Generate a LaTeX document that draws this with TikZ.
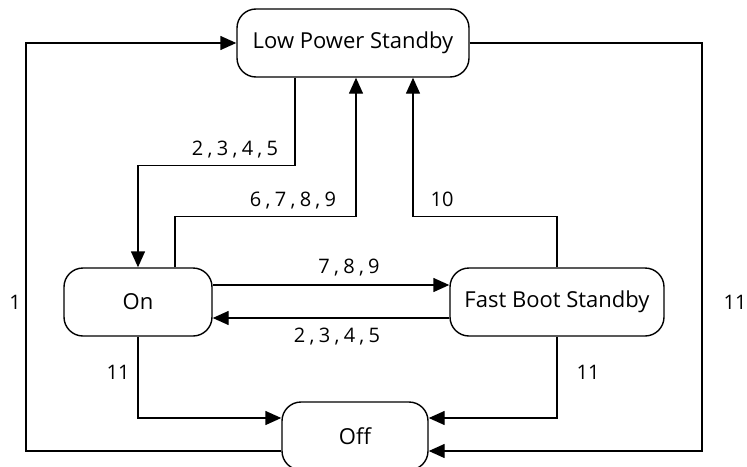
\documentclass[tikz,border=0pt]{standalone}
\usepackage{fontspec}
\setmainfont{Open Sans}
\usetikzlibrary{arrows.meta,positioning}

\newcommand\lsep{\kern4.3pt,\kern4.3pt}

\begin{document}
\begin{tikzpicture}[x=1pt,y=-1pt,
	state/.style={draw,rounded corners=19pt,line width=1.4pt,minimum height=68pt,inner sep=0pt,font=\fontsize{22}{26}\selectfont},
	trans/.style={line width=1.4pt,-{Triangle[length=16pt,width=14pt]}},
	lbl/.style={font=\fontsize{20}{24}\selectfont,inner sep=0pt,anchor=center}]
	\useasboundingbox (0,0) rectangle (747,466);

	\node[state,minimum width=232pt] (lps) at (353,43) {Low Power Standby};
	\node[state,minimum width=148pt] (on) at (138,302) {On};
	\node[state,minimum width=214pt] (fbs) at (557,302) {Fast Boot Standby};
	\node[state,minimum width=146pt] (off) at (355,436) {Off};

	%% transitions to and from low power standby
	\draw[trans] ([xshift=-58pt]lps.south) -- ++(0,88)
		node[lbl,pos=1,xshift=-60pt,yshift=16pt] {2\lsep3\lsep4\lsep5} -| (on.north);
	\draw[trans] ([xshift=37pt]on.north) -- ++(0,-51) -|
		node[lbl,pos=0.5,xshift=-63pt,yshift=16pt] {6\lsep7\lsep8\lsep9} ([xshift=3pt]lps.south);
	\draw[trans] (fbs.north) -- ++(0,-51) -|
		node[lbl,pos=0.5,xshift=29pt,yshift=17pt] {10} ([xshift=60pt]lps.south);

	%% on <-> fast boot standby
	\draw[trans] ([yshift=17pt]on.east) --
		node[lbl,xshift=18pt,yshift=17pt] {7\lsep8\lsep9} ([yshift=17pt]fbs.west);
	\draw[trans] ([yshift=-16pt]fbs.west) --
		node[lbl,xshift=6pt,yshift=-19pt] {2\lsep3\lsep4\lsep5} ([yshift=-16pt]on.east);

	%% transitions to off
	\draw[trans] (on.south) |-
		node[lbl,pos=0.5,xshift=-20pt,yshift=46pt] {11} ([yshift=18pt]off.west);
	\draw[trans] (fbs.south) |-
		node[lbl,pos=0.5,xshift=31pt,yshift=46pt] {11} ([yshift=18pt]off.east);
	\draw[trans] ([yshift=-15pt]off.west) -| 
		node[lbl,pos=0.5,xshift=-11pt,yshift=149pt] {1} (26,43) -- (lps.west);
	\draw[trans] (lps.east) -|
		node[lbl,pos=0.5,xshift=33pt,yshift=-259pt] {11} (702,451) -- ([yshift=-15pt]off.east);
\end{tikzpicture}
\end{document}
